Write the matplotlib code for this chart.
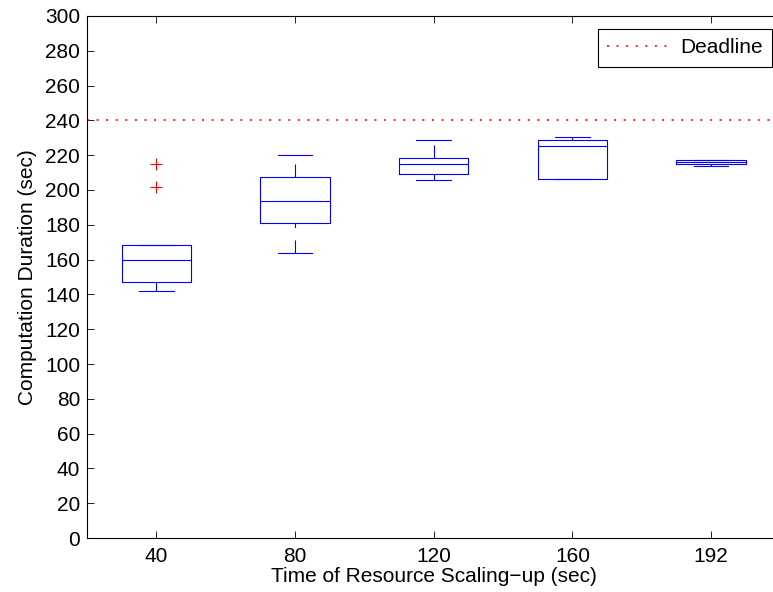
import matplotlib
matplotlib.use("Agg")
import matplotlib.pyplot as plt

plt.rcParams['font.family'] = ['Liberation Sans', 'DejaVu Sans']
plt.rcParams['lines.scale_dashes'] = False

scaling_time = ["40", "80", "120", "160", "192"]
whislo = [141.8, 163.9, 205.6, 206.5, 213.8]
q1 = [147.4, 180.8, 209.2, 206.5, 214.8]
med = [159.5, 193.7, 214.8, 225.0, 216.1]
q3 = [168.3, 207.3, 218.4, 228.6, 217.5]
whishi = [168.5, 220.1, 228.6, 230.5, 217.5]
fliers = [[201.7, 214.8], [], [], [], []]
deadline = 240

stats = []
for i in range(len(scaling_time)):
    stats.append(dict(label=scaling_time[i], whislo=whislo[i], q1=q1[i], med=med[i],
                      q3=q3[i], whishi=whishi[i], fliers=fliers[i]))

fig = plt.figure(figsize=(7.73, 5.92), dpi=100)
ax = fig.add_axes([87/773, 1-538/592, 693.5/773, 522/592])

blue = (0, 0, 1)
bp = ax.bxp(stats, widths=0.5, capwidths=0.25, patch_artist=False,
            boxprops=dict(color=blue, lw=0.8),
            medianprops=dict(color=blue, lw=0.8),
            whiskerprops=dict(color=blue, lw=0.8, linestyle=(0, (9.4, 9))),
            capprops=dict(color=blue, lw=0.8),
            flierprops=dict(marker='+', markeredgecolor='r', markersize=9, markeredgewidth=0.8))
# dashes start from the whisker end on the lower side
for w in bp['whiskers'][0::2]:
    w.set_data(w.get_xdata()[::-1], w.get_ydata()[::-1])

ax.axhline(deadline, color='r', lw=1.2, linestyle=(0, (1.4, 5.5)), label='Deadline')

ax.set_xlim(0.5, 5.5)
ax.set_ylim(0, 300)
ax.set_yticks(range(0, 301, 20))
ax.tick_params(direction='in', length=5, width=0.6, top=True, right=True, labelsize=15)
ax.tick_params(axis='y', pad=5)
ax.tick_params(axis='x', pad=6.5)
for s in ax.spines.values():
    s.set_linewidth(0.8)

ax.set_xlabel("Time of Resource Scaling\u2212up (sec)", fontsize=15, labelpad=1)
ax.set_ylabel("Computation Duration (sec)", fontsize=15, labelpad=6)

leg = ax.legend(loc='upper right', fontsize=15, handlelength=2.9, handletextpad=0.6,
                borderpad=0.45, borderaxespad=0, fancybox=False, edgecolor='k', framealpha=1,
                bbox_to_anchor=(772/773, 1-29/592), bbox_transform=fig.transFigure)
leg.get_frame().set_linewidth(0.8)

plt.savefig("out.png", dpi=100)
